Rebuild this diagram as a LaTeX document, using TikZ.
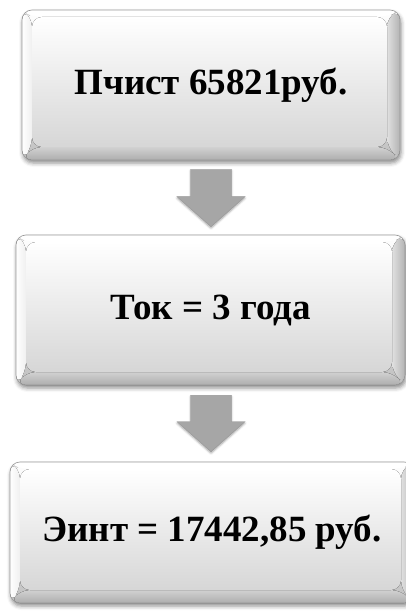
\documentclass[tikz,border=0pt]{standalone}
\usepackage{fontspec}
\setmainfont{Liberation Serif}
\usetikzlibrary{calc,shadows.blur}
\begin{document}
\begin{tikzpicture}[x=1pt,y=-1pt,
  boxshape/.style={rounded corners=10pt, draw=black!40, line width=0.6pt,
    top color=white, bottom color=black!25,
    blur shadow={shadow xshift=1pt, shadow yshift=-3pt, shadow blur radius=4pt, shadow opacity=45},
    path picture={
      \coordinate (pnw) at (path picture bounding box.north west);
      \coordinate (pse) at (path picture bounding box.south east);
      \coordinate (pne) at (path picture bounding box.north east);
      \coordinate (psw) at (path picture bounding box.south west);
      \coordinate (inw) at ($(pnw)+(10,7)$);
      \coordinate (ise) at ($(pse)+(-13,-13)$);
      \coordinate (ine) at ($(pne)+(-13,7)$);
      \coordinate (isw) at ($(psw)+(10,-13)$);
      \fill[left color=black!12, right color=black!30] (pne) -- (ine) -- (ise) -- (pse) -- cycle;
      \fill[top color=black!18, bottom color=black!32] (psw) -- (isw) -- (ise) -- (pse) -- cycle;
      \fill[left color=white, right color=black!6] (pnw) -- (inw) -- (isw) -- (psw) -- cycle;
      \fill[white] (pnw) -- (inw) -- (ine) -- (pne) -- cycle;
      \fill[top color=white, bottom color=black!16] (inw) rectangle (ise);
    }},
  boxtext/.style={font=\bfseries\fontsize{37}{41}\selectfont, text=black},
  arr/.style={fill=black!35, draw=black!40, line width=0.4pt, line join=miter,
    blur shadow={shadow xshift=0pt, shadow yshift=-1.5pt, shadow blur radius=2pt, shadow opacity=35}}
]
\useasboundingbox (0,0) rectangle (406,612);

\node[boxshape, boxtext, minimum width=378pt, minimum height=150pt] (box1) at (211,85) {Пчист 65821руб.};
\node[boxshape, boxtext, minimum width=389pt, minimum height=150pt] (box2) at (210.5,310) {Ток = 3 года};
\node[boxshape, boxtext, minimum width=404pt, minimum height=141pt] (box3) at (212,532.5) {Эинт = 17442,85 руб.};

\draw[arr] let \p1=($(box1.south)+(0,9)$), \p2=($(box2.north)+(0,-8)$) in
  (\x1-20.5pt,\y1) -- (\x1+20.5pt,\y1) -- (\x1+20.5pt,\y2+30pt) -- (\x1+34pt,\y2+30pt)
  -- (\x1,\y2) -- (\x1-34pt,\y2+30pt) -- (\x1-20.5pt,\y2+30pt) -- cycle;
\draw[arr] let \p1=($(box2.south)+(0.5,10)$), \p2=($(box3.north)+(-1,-10)$) in
  (\x1-20.5pt,\y1) -- (\x1+20.5pt,\y1) -- (\x1+20.5pt,\y2+30pt) -- (\x1+34pt,\y2+30pt)
  -- (\x1,\y2) -- (\x1-34pt,\y2+30pt) -- (\x1-20.5pt,\y2+30pt) -- cycle;
\end{tikzpicture}
\end{document}
